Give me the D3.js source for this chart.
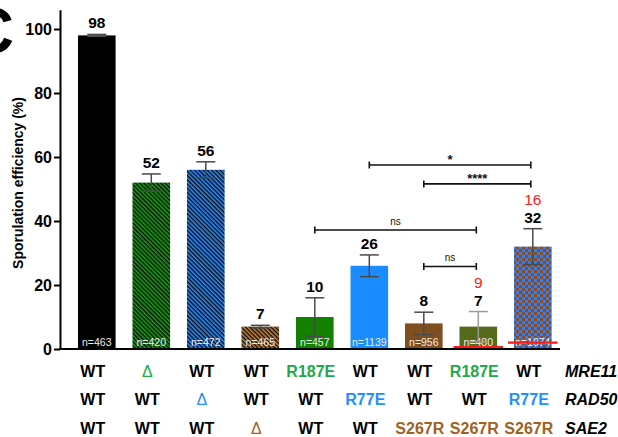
<!DOCTYPE html>
<html>
<head>
<meta charset="utf-8">
<script src="https://cdn.jsdelivr.net/npm/d3@7"></script>
<style>
  html, body { margin: 0; padding: 0; background: #fff; }
  svg { display: block; font-family: "Liberation Sans", Arial, sans-serif; }
</style>
</head>
<body>
<svg id="chart" width="618" height="437"></svg>
<script>
// Strains (MRE11 / RAD50 / SAE2 genotypes) and sporulation efficiency
const strains = ["s1", "s2", "s3", "s4", "s5", "s6", "s7", "s8", "s9"];
const efficiency = [98, 52, 56, 7, 10, 26, 8, 7, 32];
const sd = [0.3, 2.7, 2.5, 0.4, 6, 3.4, 3.5, 4.7, 5.6];
const cellCounts = ["n=463", "n=420", "n=472", "n=465", "n=457", "n=1139", "n=956", "n=480", "n=1074"];
// expected (multiplicative) values shown in red
const expectedText = [null, null, null, null, null, null, null, 9, 16];
const expectedLine = [null, null, null, null, null, null, null, 0.6, 2];

const mre11 = ["WT", "Δ", "WT", "WT", "R187E", "WT", "WT", "R187E", "WT"];
const rad50 = ["WT", "WT", "Δ", "WT", "WT", "R77E", "WT", "WT", "R77E"];
const sae2  = ["WT", "WT", "WT", "Δ", "WT", "WT", "S267R", "S267R", "S267R"];
const geneNames = ["MRE11", "RAD50", "SAE2"];

const yTicks = [0, 20, 40, 60, 80, 100];

// pairwise comparisons: bar indices, label, bracket level (in % units)
const compFrom = [5, 6, 4, 6];
const compTo = [8, 8, 7, 7];
const compLabel = ["*", "****", "ns", "ns"];
const compLevel = [57.5, 51.6, 37.2, 25.8];

const svg = d3.select("#chart");
svg.append("rect").attr("width", 618).attr("height", 437).attr("fill", "#fff");

const x = d3.scaleBand().domain(strains).range([60, 569.6]).paddingInner(0.31).paddingOuter(0.33);
const y = d3.scaleLinear().domain([0, 106]).range([349, 9.8]);

// ---- fill patterns ----
const defs = svg.append("defs");
function stripes(id, base) {
  const p = defs.append("pattern").attr("id", id).attr("patternUnits", "userSpaceOnUse")
    .attr("width", 3).attr("height", 3).attr("patternTransform", "rotate(45)");
  p.append("rect").attr("width", 3).attr("height", 3).attr("fill", base);
  p.append("rect").attr("width", 3).attr("height", 1.4).attr("fill", "#0a0a0a");
}
function checker(id, a, b, s) {
  const p = defs.append("pattern").attr("id", id).attr("patternUnits", "userSpaceOnUse")
    .attr("width", 2 * s).attr("height", 2 * s);
  p.append("rect").attr("width", 2 * s).attr("height", 2 * s).attr("fill", a);
  p.append("rect").attr("width", s).attr("height", s).attr("fill", b);
  p.append("rect").attr("x", s).attr("y", s).attr("width", s).attr("height", s).attr("fill", b);
}
stripes("hGreen", "#17a014");
stripes("hBlue", "#2b8dff");
stripes("hBrown", "#c7843f");
checker("cGreen", "#1f8a14", "#8b4b22", 2);
checker("cBlue", "#2a80ff", "#8a4b1e", 3);

const fills = ["#000", "url(#hGreen)", "url(#hBlue)", "url(#hBrown)", "#138000", "#1a8cff", "#7f4f20", "url(#cGreen)", "url(#cBlue)"];

// ---- bars ----
svg.append("g").selectAll("rect").data(strains).join("rect")
  .attr("x", d => x(d))
  .attr("width", x.bandwidth())
  .attr("y", (d, i) => y(efficiency[i]))
  .attr("height", (d, i) => y(0) - y(efficiency[i]))
  .attr("fill", (d, i) => fills[i]);

// ---- cell counts inside bars ----
svg.append("g").selectAll("text").data(strains).join("text")
  .attr("x", d => x(d) + x.bandwidth() / 2)
  .attr("y", 346)
  .attr("text-anchor", "middle")
  .attr("font-size", 10.5)
  .attr("fill", "#eee")
  .text((d, i) => cellCounts[i]);

// ---- error bars ----
const eb = svg.append("g").attr("stroke", "#4a4a4a").attr("stroke-width", 1.5).attr("fill", "none");
strains.forEach((d, i) => {
  const cx = x(d) + x.bandwidth() / 2, hw = 9.5;
  const top = y(efficiency[i] + sd[i]), bot = y(Math.max(0, efficiency[i] - sd[i]));
  const col = i === 7 ? "#9a9a9a" : "#4a4a4a";
  eb.append("line").attr("x1", cx).attr("x2", cx).attr("y1", top).attr("y2", bot).attr("stroke", col);
  eb.append("line").attr("x1", cx - hw).attr("x2", cx + hw).attr("y1", top).attr("y2", top).attr("stroke", col);
  eb.append("line").attr("x1", cx - hw).attr("x2", cx + hw).attr("y1", bot).attr("y2", bot).attr("stroke", col);
});

// ---- expected-value red lines ----
svg.append("g").selectAll("line").data(strains.filter((d, i) => expectedLine[i] !== null)).join("line")
  .attr("x1", d => x(d) - 6)
  .attr("x2", d => x(d) + x.bandwidth() + 6)
  .attr("y1", d => y(expectedLine[strains.indexOf(d)]))
  .attr("y2", d => y(expectedLine[strains.indexOf(d)]))
  .attr("stroke", "#ff1a1a").attr("stroke-width", 2.2);

// ---- value labels ----
svg.append("g").selectAll("text").data(strains).join("text")
  .attr("x", d => x(d) + x.bandwidth() / 2)
  .attr("y", (d, i) => y(efficiency[i] + sd[i]) - 6)
  .attr("text-anchor", "middle")
  .attr("font-size", 15.5).attr("font-weight", "bold").attr("fill", "#000")
  .text((d, i) => efficiency[i]);

svg.append("g").selectAll("text").data(strains.filter((d, i) => expectedText[i] !== null)).join("text")
  .attr("x", d => x(d) + x.bandwidth() / 2)
  .attr("y", d => { const i = strains.indexOf(d); return y(efficiency[i] + sd[i]) - 24; })
  .attr("text-anchor", "middle")
  .attr("font-size", 15.5).attr("fill", "#ff2020")
  .text(d => expectedText[strains.indexOf(d)]);

// ---- significance brackets ----
const br = svg.append("g").attr("stroke", "#111").attr("stroke-width", 1.6);
compFrom.forEach((f, k) => {
  const x1 = x(strains[f]) + x.bandwidth() / 2;
  const x2 = x(strains[compTo[k]]) + x.bandwidth() / 2 - 2;
  const yy = y(compLevel[k]);
  br.append("line").attr("x1", x1).attr("x2", x2).attr("y1", yy).attr("y2", yy);
  br.append("line").attr("x1", x1).attr("x2", x1).attr("y1", yy - 3.5).attr("y2", yy + 3.5);
  br.append("line").attr("x1", x2).attr("x2", x2).attr("y1", yy - 3.5).attr("y2", yy + 3.5);
  const isStar = compLabel[k] !== "ns";
  svg.append("text")
    .attr("x", (x1 + x2) / 2)
    .attr("y", isStar ? yy - 1 : yy - 5)
    .attr("text-anchor", "middle")
    .attr("font-size", isStar ? 13 : 10)
    .attr("font-weight", isStar ? "bold" : "normal")
    .attr("fill", "#111")
    .text(compLabel[k]);
});

// ---- y axis ----
const yAxis = svg.append("g").attr("transform", "translate(60,0)")
  .call(d3.axisLeft(y).tickValues(yTicks).tickSize(6).tickPadding(2).tickSizeOuter(0));
yAxis.select(".domain").attr("stroke", "#000").attr("stroke-width", 2);
yAxis.selectAll(".tick line").attr("stroke", "#000").attr("stroke-width", 2);
yAxis.selectAll(".tick text").attr("font-size", 16).attr("font-weight", "bold")
  .attr("fill", "#000").attr("font-family", "Liberation Sans, Arial, sans-serif");

// baseline
svg.append("line").attr("x1", 59).attr("x2", 560).attr("y1", y(0)).attr("y2", y(0))
  .attr("stroke", "#000").attr("stroke-width", 2.2);

// axis title
svg.append("text")
  .attr("transform", `translate(23,${(y(0) + y(100)) / 2 - 6}) rotate(-90)`)
  .attr("text-anchor", "middle")
  .attr("font-size", 14).attr("font-weight", "bold").attr("fill", "#000")
  .text("Sporulation efficiency (%)");

// panel letter
svg.append("text").attr("x", 14).attr("y", 53).attr("text-anchor", "end")
  .attr("font-size", 64).attr("font-weight", "bold").attr("fill", "#000").text("C");

// ---- genotype table ----
const rows = [mre11, rad50, sae2];
const rowBase = [377, 405, 434];
function labelColor(txt, gene) {
  if (txt === "WT") return "#000";
  if (gene === 0) return "#1aaa4a";
  if (gene === 1) return "#1e90ff";
  return "#a0621e";
}
rows.forEach((row, r) => {
  svg.append("g").selectAll("text").data(strains).join("text")
    .attr("x", d => x(d) + x.bandwidth() / 2 - 4)
    .attr("y", rowBase[r])
    .attr("text-anchor", "middle")
    .attr("font-size", 16)
    .attr("font-weight", (d, i) => row[i] === "Δ" ? "normal" : "bold")
    .attr("fill", (d, i) => labelColor(row[i], r))
    .text((d, i) => row[i]);
  svg.append("text").attr("x", 565).attr("y", rowBase[r])
    .attr("font-size", 16).attr("font-weight", "bold").attr("font-style", "italic")
    .attr("fill", "#000").text(geneNames[r]);
});
</script>
</body>
</html>
